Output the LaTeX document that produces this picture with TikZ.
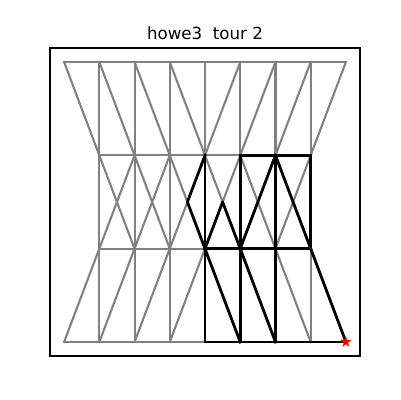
\documentclass[tikz,border=0pt]{standalone}
\usepackage{fontspec}
\setmainfont{DejaVu Sans}
\usetikzlibrary{shapes.geometric}
\tikzset{
  meshedge/.style={draw={rgb,255:red,128;green,128;blue,128}, line width=1.5pt, line cap=rect},
  touredge/.style={draw=black, line width=2pt, line cap=rect, line join=round},
  axesframe/.style={draw=black, line width=0.8pt},
  startmark/.style={star, star points=5, star point ratio=2.618, fill=red, draw=none, inner sep=0pt, minimum size=8.5pt}
}
\begin{document}
\begin{tikzpicture}[x=25.3636pt,y=67.2pt]
\useasboundingbox (-46.145pt,-41.76pt) rectangle ++(288pt,288pt);
% grid points
\foreach \i in {0,...,8} {
  \coordinate (p\i-3) at (\i,3);
  \coordinate (p\i-0) at (\i,0);
}
\foreach \i in {1,...,7} {
  \coordinate (p\i-2) at (\i,2);
  \coordinate (p\i-1) at (\i,1);
}
\foreach \i in {1,...,6} {
  \coordinate (m\i) at (\i+0.5,1.5);
}
% gray mesh
\draw[meshedge] (p0-3) -- (p8-3);
\draw[meshedge] (p1-2) -- (p7-2);
\draw[meshedge] (p1-1) -- (p7-1);
\draw[meshedge] (p0-0) -- (p8-0);
\foreach \i in {1,...,7} {
  \draw[meshedge] (p\i-3) -- (p\i-2);
  \draw[meshedge] (p\i-2) -- (p\i-1);
  \draw[meshedge] (p\i-1) -- (p\i-0);
}
\foreach \a/\b in {0/1,1/2,2/3,3/4,5/4,6/5,7/6,8/7} {
  \draw[meshedge] (p\a-3) -- (p\b-2);
}
\foreach \a/\b in {1/0,2/1,3/2,4/3,4/5,5/6,6/7,7/8} {
  \draw[meshedge] (p\a-1) -- (p\b-0);
}
\foreach \i [evaluate=\i as \j using int(\i+1)] in {1,...,6} {
  \draw[meshedge] (p\i-2) -- (m\i) -- (p\j-1);
  \draw[meshedge] (p\j-2) -- (m\i) -- (p\i-1);
}
% tour
\draw[touredge] (p5-2) -- (p7-2);
\draw[touredge] (p4-1) -- (p7-1);
\draw[touredge] (p4-0) -- (p8-0);
\foreach \i in {4,5,6,7} {
  \draw[touredge] (p\i-2) -- (p\i-1);
}
\foreach \i in {4,5,6} {
  \draw[touredge] (p\i-1) -- (p\i-0);
}
\draw[touredge] (p4-2) -- (m3) -- (p4-1);
\draw[touredge] (p4-1) -- (m4) -- (p5-1);
\draw[touredge] (p5-1) -- (m5) -- (p6-2);
\draw[touredge] (p6-2) -- (m6) -- (p7-1);
\draw[touredge] (p4-1) -- (p5-0);
\draw[touredge] (p5-1) -- (p6-0);
\draw[touredge] (p7-1) -- (p8-0);
% start marker
\node[startmark] (start) at (p8-0) {};
% axes frame and title
\draw[axesframe] (-0.4,-0.15) rectangle (8.4,3.15);
\node[anchor=base, font=\fontsize{12pt}{14pt}\selectfont, inner sep=0pt] (title) at ([yshift=6pt]4,3.15) {howe3~ tour 2};
\end{tikzpicture}
\end{document}
